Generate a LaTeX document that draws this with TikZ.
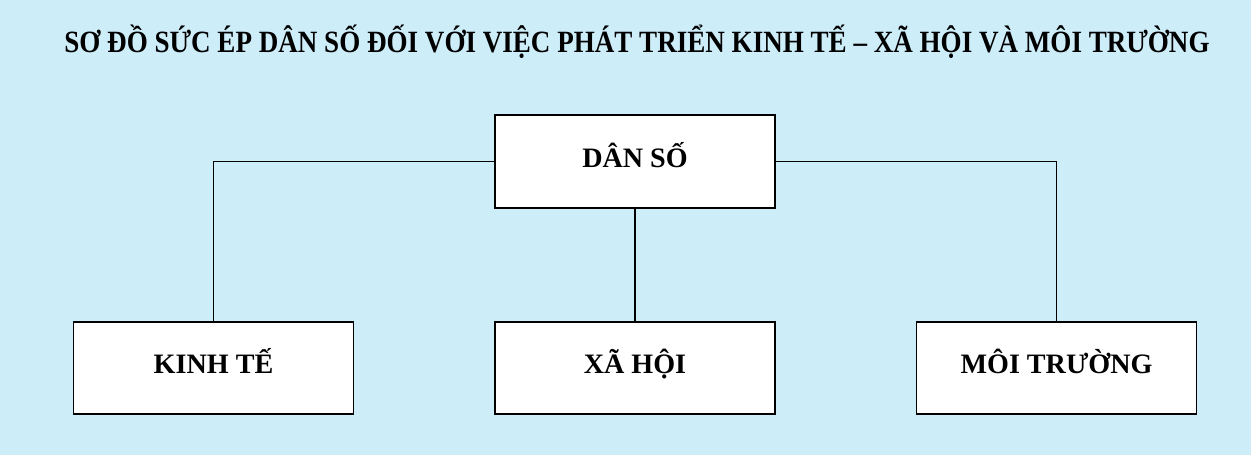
\documentclass[tikz,border=0pt]{standalone}
\usepackage{fontspec}
\setmainfont{Liberation Serif}
\definecolor{skyback}{RGB}{205,237,249}
\tikzset{
    box/.style={draw, line width=1.3pt, fill=white, minimum width=7cm, minimum height=2.32cm, text height=1.05em, text depth=0.25em, font=\bfseries\fontsize{20}{24}\selectfont},
    link/.style={line width=1.3pt}
}
\begin{document}
\begin{tikzpicture}
    % Background
    \fill[skyback] (0,0) rectangle (31.275,11.375);
    \useasboundingbox (0,0) rectangle (31.275,11.375);

    % Title
    \node[anchor=base, font=\bfseries\fontsize{22}{26}\selectfont] (title) at (15.925,10.05)
        {\scalebox{0.875}[1]{SƠ ĐỒ SỨC ÉP DÂN SỐ ĐỐI VỚI VIỆC PHÁT TRIỂN KINH TẾ – XÃ HỘI VÀ MÔI TRƯỜNG}};

    % Boxes
    \node[box] (danso) at (15.875,7.3375) {DÂN SỐ};
    \node[box] (kinhte) at (5.3375,2.175) {KINH TẾ};
    \node[box] (xahoi) at (15.875,2.175) {XÃ HỘI};
    \node[box] (moitruong) at (26.4125,2.175) {MÔI TRƯỜNG};

    % Links
    \draw[link] (danso.west) -| (kinhte.north);
    \draw[link] (danso.south) -- (xahoi.north);
    \draw[link] (danso.east) -| (moitruong.north);
\end{tikzpicture}
\end{document}
